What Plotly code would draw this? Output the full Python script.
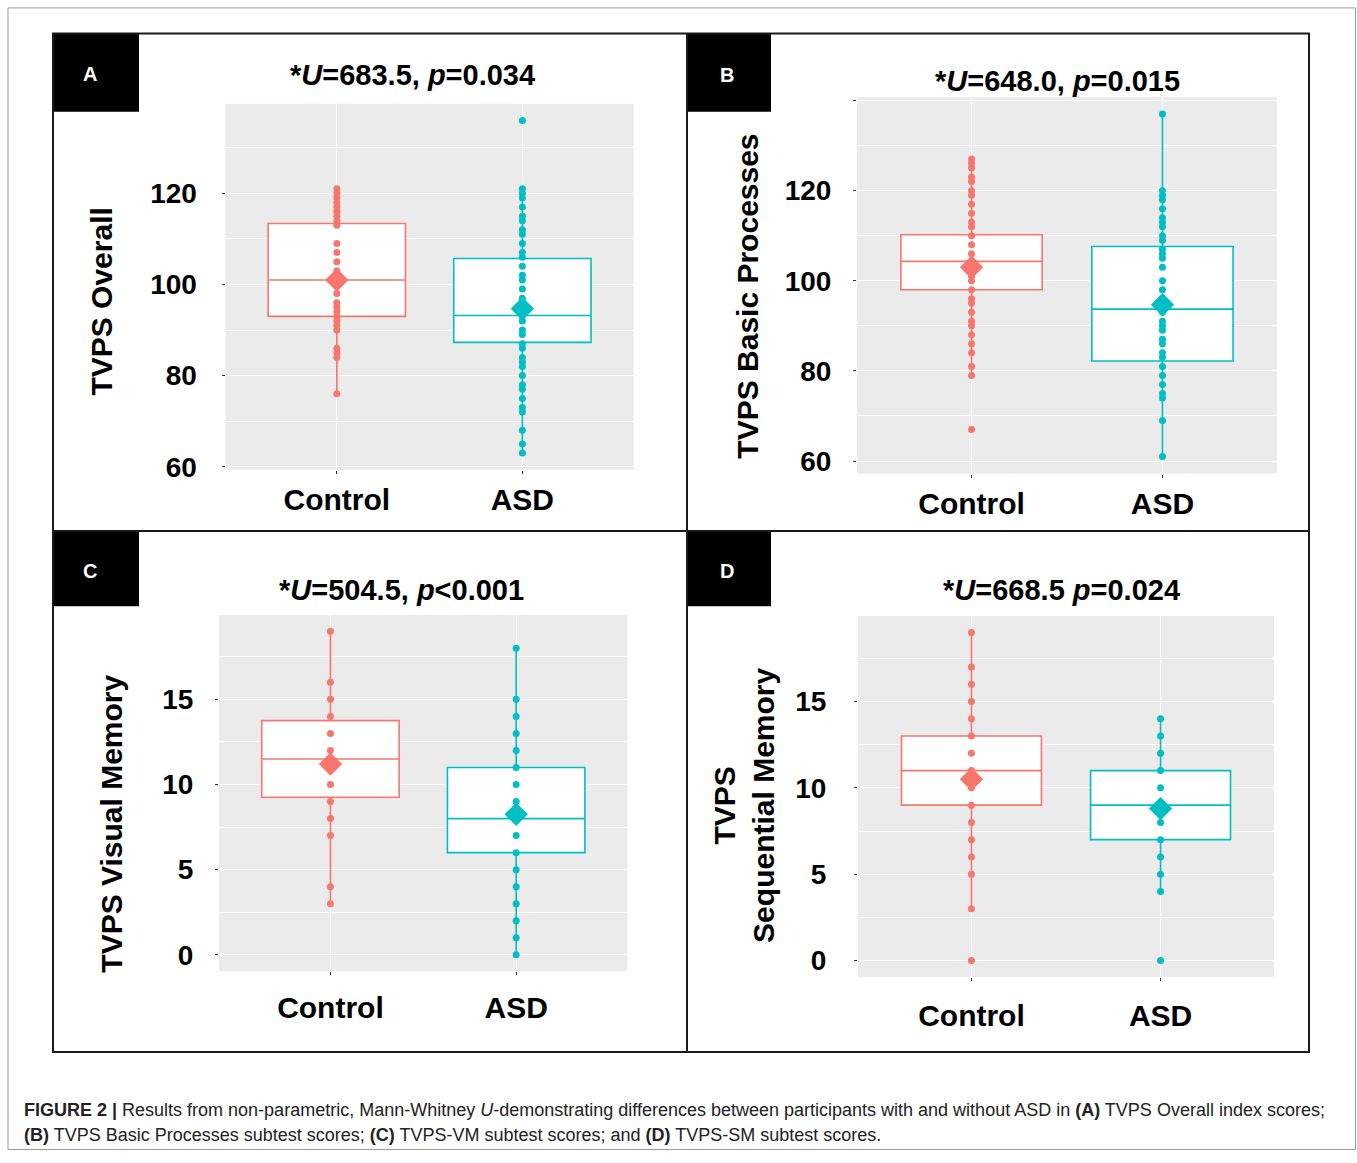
import plotly.graph_objects as go

W = 1357
FH = 1163

# ---------------- data ----------------
groups = ["Control", "ASD"]
colors = {"Control": "#F8766D", "ASD": "#00BFC4"}

panel_letters = ["A", "B", "C", "D"]
panel_titles = [
    "*<i>U</i>=683.5, <i>p</i>=0.034",
    "*<i>U</i>=648.0, <i>p</i>=0.015",
    "*<i>U</i>=504.5, <i>p</i>&lt;0.001",
    "*<i>U</i>=668.5 <i>p</i>=0.024",
]
y_titles = ["TVPS Overall", "TVPS Basic Processes", "TVPS Visual Memory", "TVPS<br>Sequential Memory"]

# individual scores
A_control = [76, 84, 85, 86, 90, 91, 92, 93, 94, 95, 96, 98, 101, 103, 105, 107, 109,
             113, 114, 115, 116, 117, 118, 119, 120, 121]
A_asd = [63, 65, 68, 72, 73, 75, 77, 78, 80, 82, 83, 84, 86, 87, 89, 90, 92, 93, 94, 96,
         97, 99, 101, 102, 104, 106, 107, 109, 111, 112, 114, 115, 117, 119, 120, 121, 136]
B_control = [67, 79, 81, 84, 86, 88, 90, 91, 93, 95, 96, 98, 100, 101, 103, 104, 106, 108,
             110, 112, 113, 115, 117, 119, 120, 122, 123, 125, 126, 127]
B_asd = [61, 69, 74, 75, 77, 79, 81, 83, 84, 86, 87, 89, 90, 91, 93, 96, 98, 100, 103, 105,
         106, 107, 109, 110, 112, 113, 114, 116, 118, 119, 120, 137]
C_control = [3, 4, 7, 8, 9, 10, 11, 12, 13, 14, 15, 16, 19]
C_asd = [0, 1, 2, 3, 4, 5, 6, 7, 8, 9, 10, 11, 12, 13, 14, 15, 18]
D_control = [0, 3, 5, 6, 7, 8, 9, 10, 11, 12, 13, 14, 15, 16, 17, 19]
D_asd = [0, 4, 5, 6, 7, 8, 9, 10, 11, 12, 13, 14]

# box summaries [Control, ASD]
q1 = {"A": [93.0, 87.3], "B": [98.0, 82.2], "C": [9.25, 6.0], "D": [9.0, 7.0]}
median = {"A": [101.0, 93.2], "B": [104.3, 93.7], "C": [11.5, 8.0], "D": [11.0, 9.0]}
q3 = {"A": [113.4, 105.7], "B": [110.2, 107.6], "C": [13.75, 11.0], "D": [13.0, 11.0]}
lower = {"A": [76, 63], "B": [79, 61], "C": [3, 0], "D": [3, 4]}
upper = {"A": [121, 121], "B": [127, 137], "C": [19, 18], "D": [19, 14]}
means = {"A": [101.0, 94.7], "B": [103.0, 94.7], "C": [11.2, 8.25], "D": [10.5, 8.8]}

points = {"A": [A_control, A_asd], "B": [B_control, B_asd],
          "C": [C_control, C_asd], "D": [D_control, D_asd]}

y_ranges = {"A": [59.35, 139.65], "B": [57.2, 140.8], "C": [-0.95, 19.95], "D": [-0.95, 19.95]}
y_tickvals = {"A": [60, 80, 100, 120], "B": [60, 80, 100, 120, 140],
              "C": [0, 5, 10, 15], "D": [0, 5, 10, 15]}
y_ticktext = {"A": ["60", "80", "100", "120"], "B": ["60", "80", "100", "120", ""],
              "C": ["0", "5", "10", "15"], "D": ["0", "5", "10", "15"]}
y_minor = {"A": 10, "B": 10, "C": 2.5, "D": 2.5}

# ---------------- layout geometry (pixels) ----------------
plot_px = {  # x0, x1, y0(top), y1(bottom)
    "A": (225.5, 633.7, 105, 475),
    "B": (857, 1277, 98, 479),
    "C": (219, 627.6, 622, 982),
    "D": (858, 1274, 623, 988),
}
ystandoff = {"A": 19, "B": 16, "C": 16, "D": 22}
xstandoff = {"A": 0, "B": 0, "C": 7, "D": 9}
title_pos = {"A": (412, 76), "B": (1057, 82), "C": (401, 597), "D": (1061, 597)}
ytitle_pos = {"A": (102, 305), "B": (748, 300), "C": (112, 833), "D": (744, 815)}
label_box = {"A": (53, 34, 139, 113), "B": (686, 34, 771, 113),
             "C": (53, 537, 139, 613), "D": (686, 537, 771, 613)}
letter_pos = {"A": (90, 75), "B": (727, 76), "C": (90, 577), "D": (727, 577)}


def fx(px):
    return px / W


def fy(py):
    return 1 - py / FH


FONT = "Liberation Sans, Arial, Helvetica, sans-serif"
fig = go.Figure()
layout = dict(width=W, height=FH, margin=dict(l=0, r=0, t=0, b=0),
              paper_bgcolor="white", plot_bgcolor="#EBEBEB", showlegend=False,
              boxmode="overlay")
annotations = []
shapes = []

for i, key in enumerate(panel_letters):
    n = "" if i == 0 else str(i + 1)
    xa, ya = "x" + n, "y" + n
    x0, x1, y0, y1 = plot_px[key]
    layout["xaxis" + n] = dict(
        domain=[fx(x0), fx(x1)], anchor=ya, range=[-0.6, 1.6],
        tickvals=[0, 1], ticktext=groups, showgrid=True, gridcolor="white", gridwidth=1.4,
        zeroline=False, showline=False, ticks="outside", ticklen=3, tickcolor="#333",
        tickwidth=1, ticklabelstandoff=xstandoff[key],
        tickfont=dict(family=FONT, size=30, color="black", weight="bold"))
    layout["yaxis" + n] = dict(
        domain=[fy(y1), fy(y0)], anchor=xa, range=y_ranges[key],
        tickvals=y_tickvals[key], ticktext=y_ticktext[key],
        showgrid=True, gridcolor="white", gridwidth=1.4, zeroline=False, showline=False,
        ticks="outside", ticklen=3, tickcolor="#333", tickwidth=1,
        ticklabelstandoff=ystandoff[key],
        minor=dict(dtick=y_minor[key], tick0=0, showgrid=True, gridcolor="white",
                   gridwidth=0.6, ticks=""),
        tickfont=dict(family=FONT, size=28, color="black", weight="bold"))

    for g, grp in enumerate(groups):
        c = colors[grp]
        fig.add_trace(go.Box(
            x=[g], q1=[q1[key][g]], median=[median[key][g]], q3=[q3[key][g]],
            lowerfence=[lower[key][g]], upperfence=[upper[key][g]],
            width=0.74, whiskerwidth=0, fillcolor="white", boxpoints=False,
            line=dict(color=c, width=1.6), xaxis=xa, yaxis=ya, hoverinfo="skip"))
    for g, grp in enumerate(groups):
        c = colors[grp]
        vals = points[key][g]
        fig.add_trace(go.Scatter(
            x=[g] * len(vals), y=vals, mode="markers",
            marker=dict(color=c, size=7, line=dict(width=0)), xaxis=xa, yaxis=ya))
        fig.add_trace(go.Scatter(
            x=[g], y=[means[key][g]], mode="markers",
            marker=dict(color=c, size=18, symbol="diamond", line=dict(width=0)),
            xaxis=xa, yaxis=ya))

    tx, ty = title_pos[key]
    annotations.append(dict(x=fx(tx), y=fy(ty), xref="paper", yref="paper",
                            text="<b>" + panel_titles[i] + "</b>", showarrow=False,
                            xanchor="center", yanchor="middle",
                            font=dict(family=FONT, size=29, color="black")))
    ax_, ay_ = ytitle_pos[key]
    annotations.append(dict(x=fx(ax_), y=fy(ay_), xref="paper", yref="paper",
                            text="<b>" + y_titles[i] + "</b>", showarrow=False,
                            textangle=-90, xanchor="center", yanchor="middle",
                            font=dict(family=FONT, size=30, color="black")))
    bx0, by0, bx1, by1 = label_box[key]
    shapes.append(dict(type="rect", xref="paper", yref="paper", x0=fx(bx0), x1=fx(bx1),
                       y0=fy(by1), y1=fy(by0), fillcolor="black", line=dict(width=0),
                       layer="above"))
    lx, ly = letter_pos[key]
    annotations.append(dict(x=fx(lx), y=fy(ly), xref="paper",
                            yref="paper", text="<b>" + key + "</b>", showarrow=False,
                            xanchor="center", yanchor="middle",
                            font=dict(family=FONT, size=20, color="white")))

# panel frames
frame = dict(color="#1a1a1a", width=2)
shapes.append(dict(type="rect", xref="paper", yref="paper", x0=fx(53), x1=fx(1309),
                   y0=fy(1064), y1=fy(34), line=frame, layer="above"))
shapes.append(dict(type="line", xref="paper", yref="paper", x0=fx(687), x1=fx(687),
                   y0=fy(1064), y1=fy(34), line=frame, layer="above"))
shapes.append(dict(type="line", xref="paper", yref="paper", x0=fx(53), x1=fx(1309),
                   y0=fy(537), y1=fy(537), line=frame, layer="above"))
# outer border
shapes.append(dict(type="rect", xref="paper", yref="paper", x0=fx(8), x1=fx(1355.5),
                   y0=fy(FH - 0.5), y1=fy(8), line=dict(color="#9a9a9a", width=1),
                   layer="above"))

cap_font = dict(family=FONT, size=18, color="#222222")
annotations.append(dict(
    x=fx(22), y=fy(1123), xref="paper", yref="paper", xanchor="left", yanchor="middle",
    showarrow=False, font=cap_font, align="left",
    text="<b>FIGURE 2 |</b> Results from non-parametric, Mann-Whitney <i>U</i>-demonstrating "
         "differences between participants with and without ASD in <b>(A)</b> TVPS Overall "
         "index scores;"))
annotations.append(dict(
    x=fx(22), y=fy(1148), xref="paper", yref="paper", xanchor="left", yanchor="middle",
    showarrow=False, font=cap_font, align="left",
    text="<b>(B)</b> TVPS Basic Processes subtest scores; <b>(C)</b> TVPS-VM subtest scores; "
         "and <b>(D)</b> TVPS-SM subtest scores."))

layout["annotations"] = annotations
layout["shapes"] = shapes
fig.update_layout(**layout)
fig.write_html("out.html")
